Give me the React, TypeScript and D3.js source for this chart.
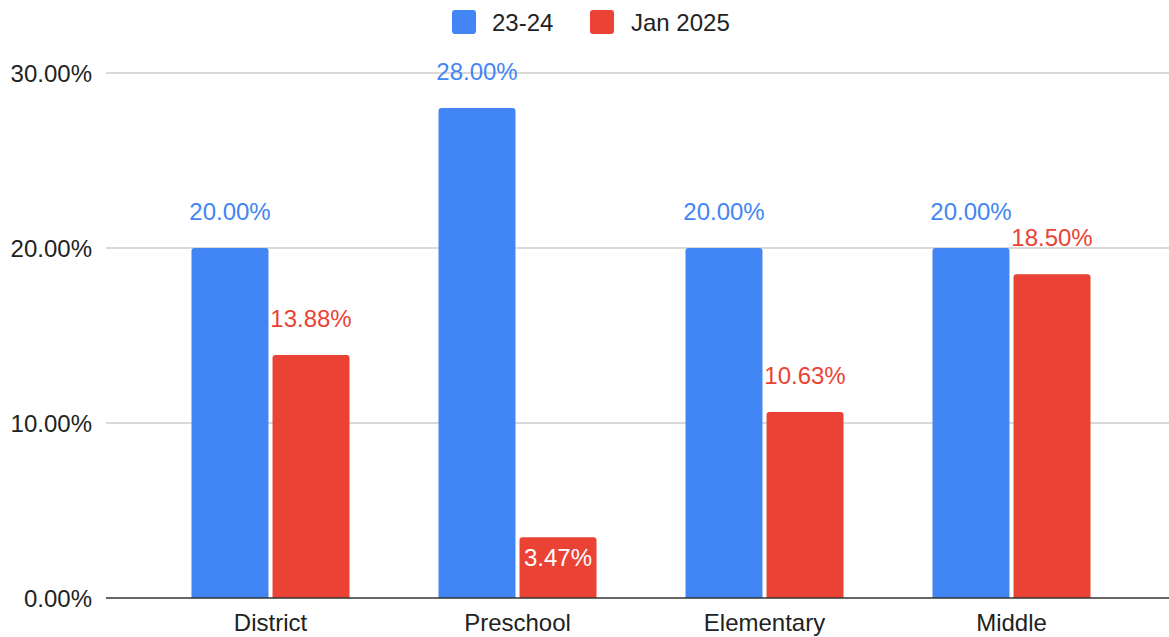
import React from 'react'
import * as d3 from 'd3'

const categories = ['District', 'Preschool', 'Elementary', 'Middle']
const series2324 = [20.0, 28.0, 20.0, 20.0]
const seriesJan2025 = [13.88, 3.47, 10.63, 18.5]
const yTicks = [0, 10, 20, 30]
const seriesNames = ['23-24', 'Jan 2025']
const colors = ['#4285F4', '#EA4335']

const W = 1169
const H = 637
const FONT = 'Arial, "Liberation Sans", Helvetica, sans-serif'
const FS = 24

const App: React.FC = () => {
    const plotLeft = 106
    const plotRight = 1169
    const y = d3.scaleLinear().domain([0, 30]).range([598, 73])
    const x0 = d3.scaleBand().domain(categories).range([147, 1135]).paddingInner(0).paddingOuter(0)
    const groupW = 158
    const x1 = d3
        .scaleBand()
        .domain(seriesNames)
        .range([0, groupW])
        .paddingInner(0.05)

    const values = [series2324, seriesJan2025]

    const roundTopRect = (xx: number, yy: number, w: number, h: number, r: number) => {
        const rr = Math.min(r, h)
        return `M${xx},${yy + h}V${yy + rr}Q${xx},${yy} ${xx + rr},${yy}H${xx + w - rr}Q${xx + w},${yy} ${xx + w},${yy + rr}V${yy + h}Z`
    }

    return (
        <svg width={W} height={H} style={{ position: 'absolute', left: 0, top: 0, background: '#fff' }} fontFamily={FONT}>
            {/* legend */}
            <g>
                <rect x={452} y={10} width={24} height={24} rx={3} fill={colors[0]} />
                <text x={492} y={31} fontSize={FS} fill="#222">{seriesNames[0]}</text>
                <rect x={590} y={10} width={24} height={24} rx={3} fill={colors[1]} />
                <text x={631} y={31} fontSize={FS} fill="#222">{seriesNames[1]}</text>
            </g>
            {/* grid */}
            {yTicks.map((t) => (
                <g key={t}>
                    {t !== 0 && (
                        <line x1={plotLeft} x2={plotRight} y1={y(t)} y2={y(t)} stroke="#cccccc" strokeWidth={1.3} />
                    )}
                    <text x={92} y={y(t) + 8.5} fontSize={FS} textAnchor="end" fill="#222">
                        {t.toFixed(2)}%
                    </text>
                </g>
            ))}
            {/* bars */}
            {categories.map((c, i) => {
                const gx = (x0(c) as number) + (x0.bandwidth() - groupW) / 2
                return (
                    <g key={c}>
                        {values.map((vals, s) => {
                            const v = vals[i]
                            const bx = gx + (x1(seriesNames[s]) as number)
                            const bw = x1.bandwidth()
                            const top = y(v)
                            const h = y(0) - top
                            const inside = h < 80
                            return (
                                <g key={s}>
                                    <path d={roundTopRect(bx, top, bw, h, 3)} fill={colors[s]} />
                                    <text
                                        x={bx + bw / 2}
                                        y={inside ? top + 29 : top - 28}
                                        fontSize={FS}
                                        textAnchor="middle"
                                        fill={inside ? '#ffffff' : colors[s]}
                                    >
                                        {v.toFixed(2)}%
                                    </text>
                                </g>
                            )
                        })}
                        <text x={(x0(c) as number) + x0.bandwidth() / 2} y={631} fontSize={FS} textAnchor="middle" fill="#222">
                            {c}
                        </text>
                    </g>
                )
            })}
            <line x1={plotLeft} x2={plotRight} y1={y(0)} y2={y(0)} stroke="#333" strokeWidth={1.5} />
        </svg>
    )
}

export default App
